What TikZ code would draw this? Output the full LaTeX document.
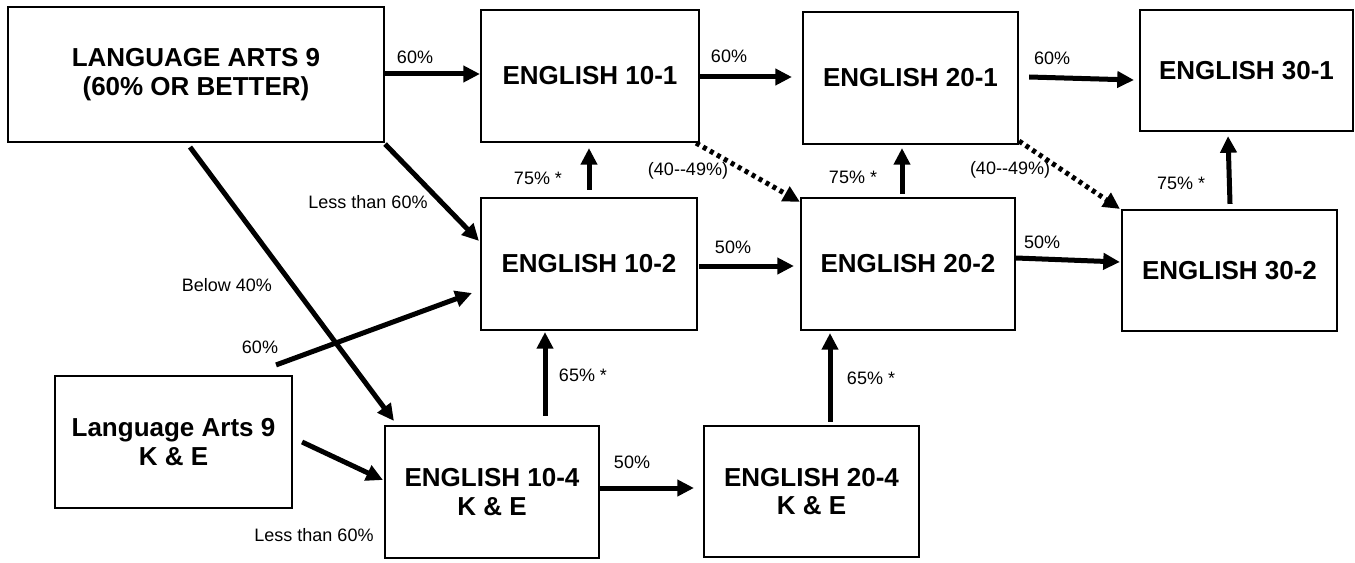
\documentclass[tikz,border=0pt]{standalone}
\usepackage{fontspec}
\setmainfont{Liberation Sans}
\usetikzlibrary{arrows.meta,calc}
\begin{document}
\begin{tikzpicture}[x=0.75pt,y=-0.75pt,
  box/.style={draw, line width=1.6pt, inner sep=0pt, align=center,
    font=\fontsize{19.5}{21.5}\selectfont\bfseries},
  lab/.style={inner sep=0pt, font=\fontsize{13.5}{15}\selectfont},
  arr/.style={line width=3.75pt, -{Triangle[length=12.5pt,width=12pt]}},
  dotarr/.style={arr, dash pattern=on 3pt off 3pt}]
\useasboundingbox (0,0) rectangle (1355,563);

% boxes
\node[box, minimum width=282pt, minimum height=101.25pt] (la9) at (196,74.5) {LANGUAGE ARTS 9\\(60\% OR BETTER)};
\node[box, minimum width=163.5pt, minimum height=99pt] (e101) at (590,76) {ENGLISH 10-1};
\node[box, minimum width=161.25pt, minimum height=99pt] (e201) at (910.5,78) {ENGLISH 20-1};
\node[box, minimum width=159.75pt, minimum height=90.75pt] (e301) at (1246.5,70.5) {ENGLISH 30-1};
\node[box, minimum width=162pt, minimum height=99pt] (e102) at (589,264) {ENGLISH 10-2};
\node[box, minimum width=160.5pt, minimum height=99pt] (e202) at (908,264) {ENGLISH 20-2};
\node[box, minimum width=161.25pt, minimum height=90.75pt] (e302) at (1229.5,270.5) {ENGLISH 30-2};
\node[box, minimum width=177.75pt, minimum height=99pt] (la9ke) at (173.5,442) {Language Arts 9\\K \& E};
\node[box, minimum width=160.5pt, minimum height=99pt] (e104) at (492,492) {ENGLISH 10-4\\K \& E};
\node[box, minimum width=161.25pt, minimum height=98.25pt] (e204) at (811.5,491.5) {ENGLISH 20-4\\K \& E};

% connectors
\draw[arr] ($(la9.east)+(0,-0.5)$) -- ($(e101.west)+(0,-2)$);
\draw[arr] ($(e101.east)+(0,1)$) -- ($(e201.west)+(-10,-1)$);
\draw[arr] ($(e201.east)+(10,-1)$) -- ($(e301.west)+(-5,9.5)$);
\draw[arr] ($(e102.north)+(0,-7)$) -- ($(e101.south)+(-1,5)$);
\draw[arr] ($(e202.north)+(-6,-3)$) -- ($(e201.south)+(-8.5,3)$);
\draw[arr] ($(e302.north)+(0.5,-5)$) -- ($(e301.south)+(-18.5,4)$);
\draw[dotarr] ($(e101.south east)+(-4,0)$) -- ($(e202.north west)+(0,5)$);
\draw[dotarr] ($(e201.south east)+(0,-4)$) -- ($(e302.north west)+(-1,0)$);
\draw[arr] ($(la9.south east)+(0,1)$) -- ($(e102.north west)+(-1,44)$);
\draw[arr] ($(la9.south)+(-6,4)$) -- ($(e104.north west)+(10,-4)$);
\draw[arr] ($(la9ke.north east)+(-17,-10)$) -- ($(e102.west)+(-8,29)$);
\draw[arr] ($(la9ke.east)+(9,0)$) -- ($(e104.west)+(-1,-12)$);
\draw[arr] ($(e104.north)+(53,-9)$) -- ($(e102.south)+(-44,1)$);
\draw[arr] ($(e204.north)+(18.5,-3)$) -- ($(e202.south)+(-78,2)$);
\draw[arr] ($(e104.east)+(0,-4)$) -- ($(e204.west)+(-9,-3.5)$);
\draw[arr] ($(e102.east)+(1,2)$) -- ($(e202.west)+(-6,2)$);
\draw[arr] ($(e202.east)+(0,-6)$) -- ($(e302.west)+(-1,-8.5)$);

% labels
\node[lab] (l1) at (415,57) {60\%};
\node[lab] (l2) at (729,56) {60\%};
\node[lab] (l3) at (1052,58) {60\%};
\node[lab] (l4) at (538,178) {75\% *};
\node[lab] (l5) at (853,177) {75\% *};
\node[lab] (l6) at (1181,183) {75\% *};
\node[lab] (l7) at (688,171) {(40-{}-49\%)};
\node[lab] (l8) at (1010,170) {(40-{}-49\%)};
\node[lab] (l9) at (368,202) {Less than 60\%};
\node[lab] (l10) at (227,285) {Below 40\%};
\node[lab] (l11) at (260,347) {60\%};
\node[lab] (l12) at (733,247) {50\%};
\node[lab] (l13) at (1042,242) {50\%};
\node[lab] (l14) at (583,375) {65\% *};
\node[lab] (l15) at (871,378) {65\% *};
\node[lab] (l16) at (314,535) {Less than 60\%};
\node[lab] (l17) at (632,462) {50\%};
\end{tikzpicture}
\end{document}
